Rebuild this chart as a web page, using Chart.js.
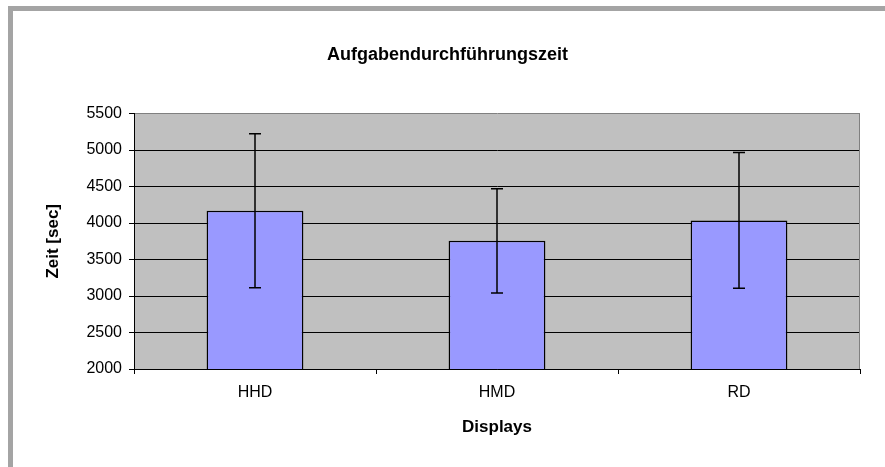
<!DOCTYPE html>
<html>
<head>
<meta charset="utf-8">
<script src="https://cdn.jsdelivr.net/npm/chart.js@4/dist/chart.umd.min.js"></script>
<style>
    body { margin: 0; background: #fff; }
    canvas { display: block; }
</style>
</head>
<body>
<canvas id="timeChart" width="885" height="467"></canvas>
<script>
const displays = ["HHD", "HMD", "RD"];
const meanTime = [4170, 3757, 4036];
const stdDev = [1055, 714, 930];
const yTicks = [2000, 2500, 3000, 3500, 4000, 4500, 5000, 5500];

const fontFamily = "'Liberation Sans', Arial, sans-serif";

// grey frame, plot background and right border like the old office chart
const frame = {
    id: "frame",
    beforeDraw(chart) {
        const c = chart.ctx;
        const a = chart.chartArea;
        c.save();
        c.fillStyle = "#a4a4a4";
        c.fillRect(8, 6, chart.width - 8, 5);
        c.fillRect(8, 6, 5, chart.height - 6);
        c.fillStyle = "#c0c0c0";
        c.fillRect(a.left, a.top, a.right - a.left, a.bottom - a.top);
        c.restore();
    },
    afterDraw(chart) {
        const c = chart.ctx;
        const a = chart.chartArea;
        c.save();
        c.strokeStyle = "#808080";
        c.lineWidth = 1;
        c.beginPath();
        c.moveTo(a.right - 0.5, a.top);
        c.lineTo(a.right - 0.5, a.bottom);
        c.stroke();
        c.restore();
    }
};

const errorBars = {
    id: "errorBars",
    afterDatasetsDraw(chart) {
        const c = chart.ctx;
        const y = chart.scales.y;
        const meta = chart.getDatasetMeta(0);
        c.save();
        c.strokeStyle = "#000";
        c.lineWidth = 1.5;
        meta.data.forEach((bar, i) => {
            const top = y.getPixelForValue(meanTime[i] + stdDev[i]);
            const bottom = y.getPixelForValue(meanTime[i] - stdDev[i]);
            c.beginPath();
            c.moveTo(bar.x, top);
            c.lineTo(bar.x, bottom);
            c.moveTo(bar.x - 6, top);
            c.lineTo(bar.x + 6, top);
            c.moveTo(bar.x - 6, bottom);
            c.lineTo(bar.x + 6, bottom);
            c.stroke();
        });
        c.restore();
    }
};

new Chart(document.getElementById("timeChart"), {
    type: "bar",
    data: {
        labels: displays,
        datasets: [{
            data: meanTime,
            backgroundColor: "#9999ff",
            borderColor: "#000",
            borderWidth: 1.5,
            categoryPercentage: 1,
            barPercentage: 0.4
        }]
    },
    options: {
        responsive: false,
        animation: false,
        layout: { padding: { left: 35, right: 25, top: 0, bottom: 0 } },
        plugins: {
            legend: { display: false },
            tooltip: { enabled: false },
            title: {
                display: true,
                text: "Aufgabendurchführungszeit",
                color: "#000",
                font: { family: fontFamily, size: 18, weight: "bold" },
                padding: { top: 44, bottom: 48 }
            }
        },
        scales: {
            x: {
                grid: { drawOnChartArea: false, drawTicks: true, tickLength: 5, color: "#000" },
                border: { color: "#000", width: 1 },
                ticks: { color: "#000", padding: 9, font: { family: fontFamily, size: 16 } },
                title: {
                    display: true,
                    text: "Displays",
                    color: "#000",
                    font: { family: fontFamily, size: 17, weight: "bold" },
                    padding: { top: 0, bottom: 29 }
                },
                afterFit(scale) { scale.height = 98; }
            },
            y: {
                min: 2000,
                max: 5500,
                afterBuildTicks(scale) { scale.ticks = yTicks.map(v => ({ value: v })); },
                grid: {
                    color: ctx => (ctx.tick && ctx.tick.value === 5500 ? "#808080" : "#000"),
                    tickColor: "#000",
                    tickLength: 5
                },
                border: { color: "#000", width: 1 },
                ticks: {
                    color: "#000",
                    padding: 7,
                    font: { family: fontFamily, size: 16 },
                    callback: v => String(v)
                },
                title: {
                    display: true,
                    text: "Zeit [sec]",
                    color: "#000",
                    font: { family: fontFamily, size: 17, weight: "bold" },
                    padding: { top: 8, bottom: 0 }
                },
                afterFit(scale) { scale.width = 99; }
            }
        }
    },
    plugins: [frame, errorBars]
});
</script>
</body>
</html>
